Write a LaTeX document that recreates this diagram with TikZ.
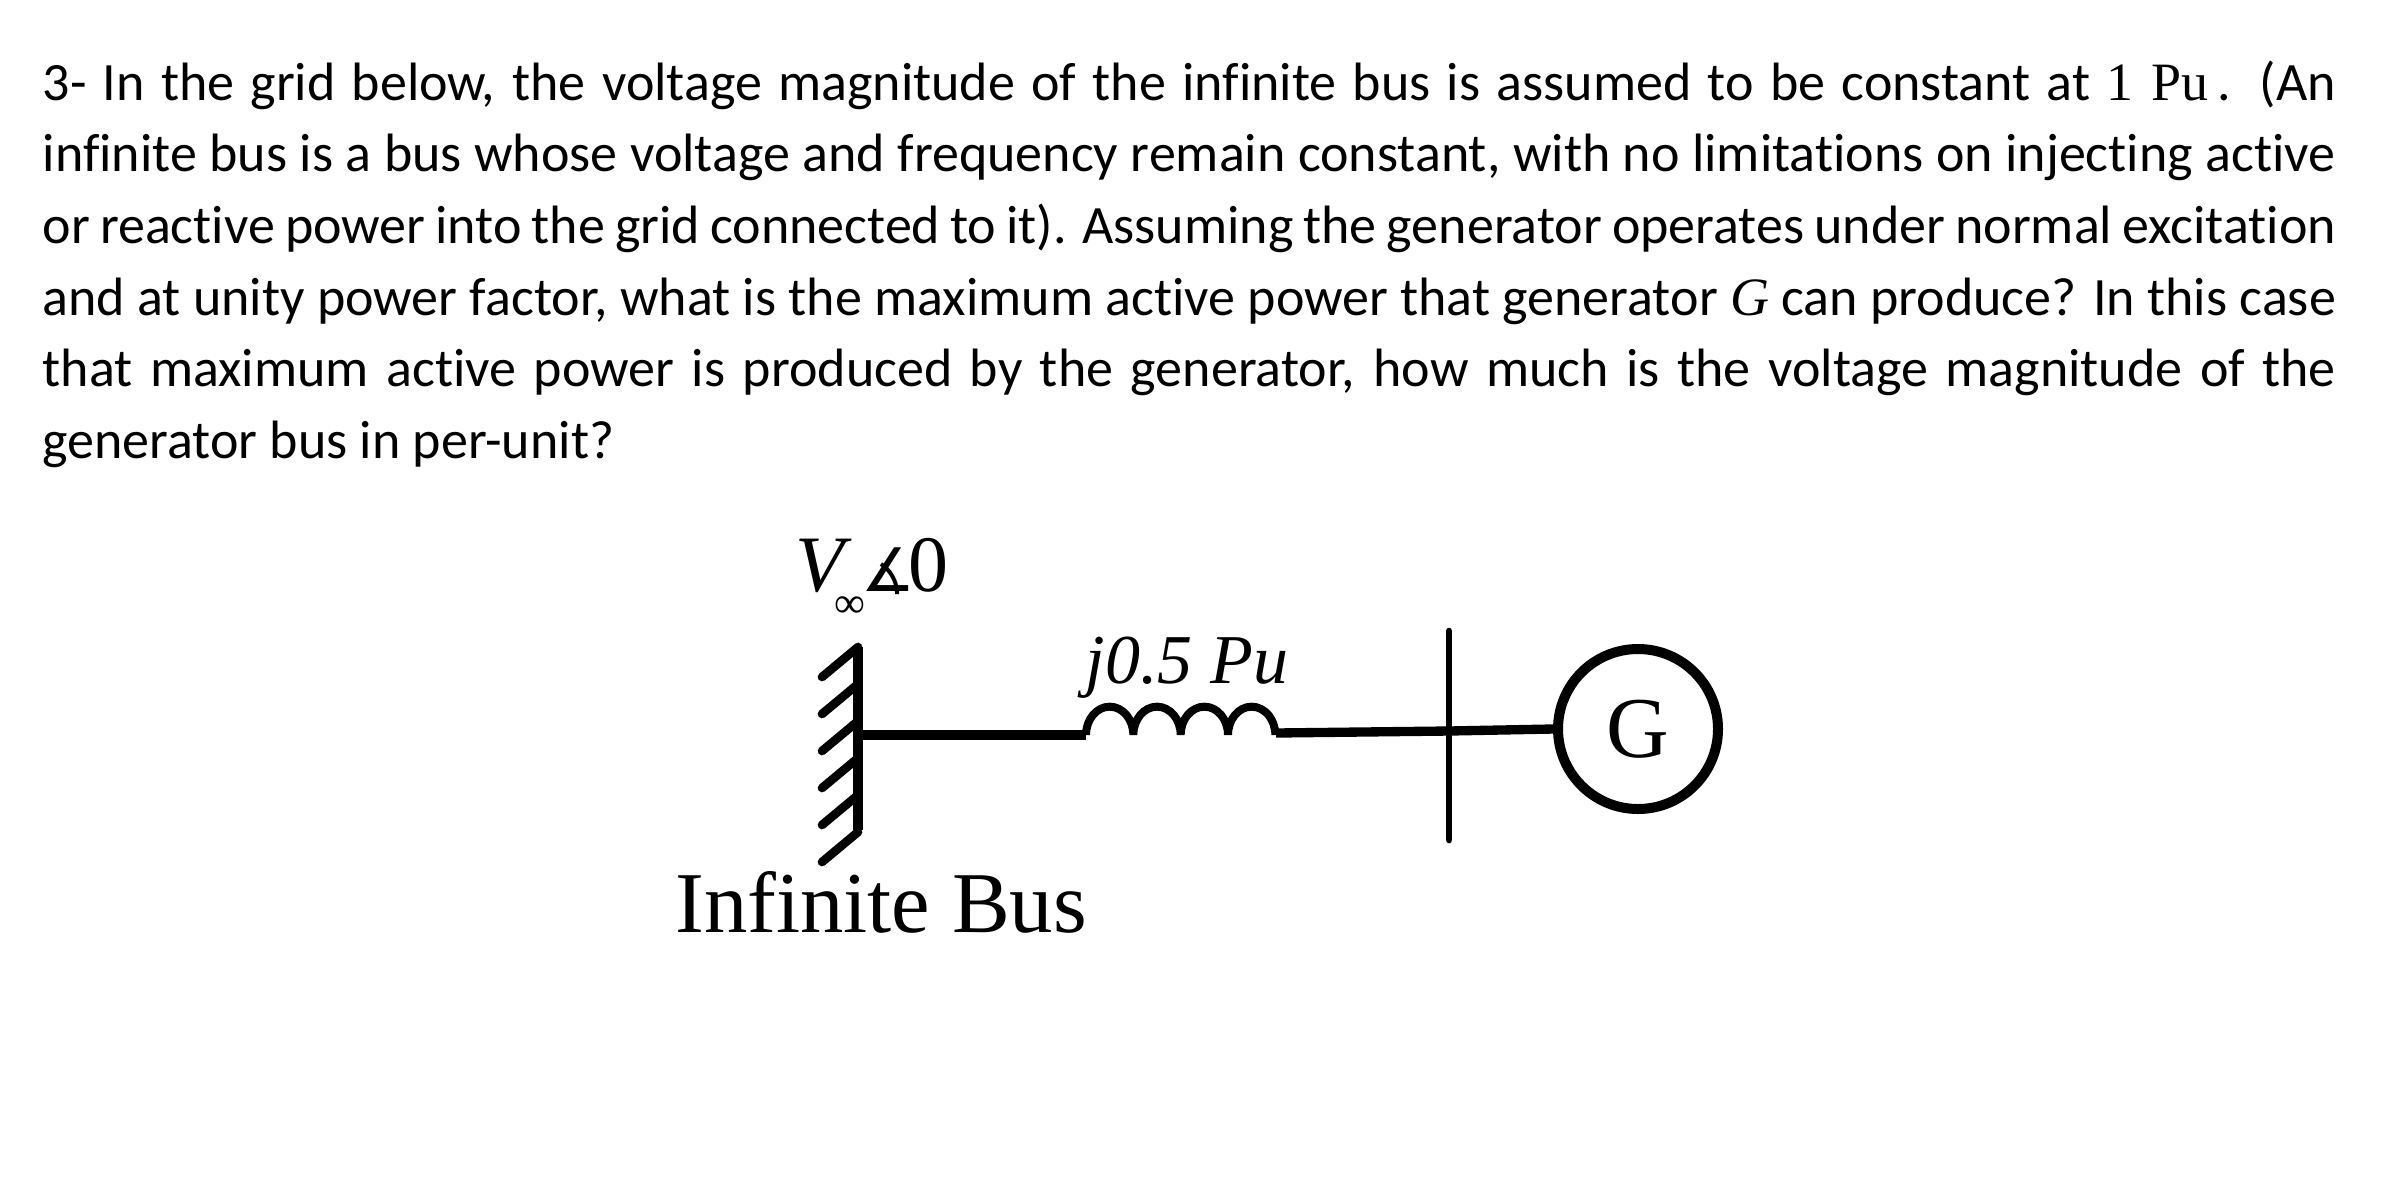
\documentclass[tikz,border=0pt]{standalone}
\usepackage{fontspec}
\setmainfont[Ligatures=NoCommon]{Carlito}
\newfontfamily\tms{Liberation Serif}
\newfontfamily\djv{DejaVu Sans}
\begin{document}
\begin{tikzpicture}[x=0.3pt,y=-0.3pt,
  wire/.style={line width=2.8pt},
  hatch/.style={line width=2.6pt,line cap=round},
  busbar/.style={line width=2pt,line cap=round}]
\useasboundingbox (0,0) rectangle (2404,1182);
\node[anchor=north west,inner sep=0pt,text width=688pt,font=\fontsize{16.2pt}{21.5pt}\selectfont,align=justify] (q) at (42,60)
{\hyphenpenalty=10000 3- In the grid below, the voltage magnitude of the infinite bus is assumed to be constant at {\tms 1 Pu}\,. (An\linebreak infinite bus is a bus whose voltage and frequency remain constant, with no limitations on injecting active\linebreak or reactive power into the grid connected to it). Assuming the generator operates under normal excitation\linebreak and at unity power factor, what is the maximum active power that generator {\tms\itshape G} can produce? In this case\linebreak that maximum active power is produced by the generator, how much is the voltage magnitude of the\linebreak generator bus in per-unit?\par};
% infinite bus
\coordinate (ibt) at (858,647);
\coordinate (ibb) at (858,830);
\coordinate (ibm) at (858,735);
\draw[wire] (ibt) -- (ibb);
\foreach \y in {647,684,721,758,795,832}
  \draw[hatch] (858,\y) -- ++(-36,30);
\node[font=\tms\fontsize{24pt}{24pt}\selectfont,inner sep=0pt] (v) at (872,578) {\itshape V\kern-3pt\raisebox{-8pt}{\fontsize{13pt}{13pt}\selectfont\upshape ∞}\kern-1pt{\upshape\djv\fontsize{18pt}{18pt}\selectfont∡}\kern-2pt{\upshape 0}};
% line and inductor
\coordinate (l1) at (1086,735);
\coordinate (l2) at (1276,733);
\draw[wire] (ibm) -- (l1);
\draw[line width=2.4pt] (l1) arc[start angle=180,end angle=0,x radius=7.1pt,y radius=8.5pt]
  arc[start angle=180,end angle=0,x radius=7.1pt,y radius=8.5pt]
  arc[start angle=180,end angle=0,x radius=7.1pt,y radius=8.5pt]
  arc[start angle=180,end angle=0,x radius=7.1pt,y radius=8.5pt];
\node[font=\tms\itshape\fontsize{21pt}{21pt}\selectfont,inner sep=0pt] (z) at (1187,668) {j0.5 Pu};
% generator bus
\coordinate (gbt) at (1449,631);
\coordinate (gbb) at (1449,840);
\coordinate (gbm) at (1449,731);
\draw[busbar] (gbt) -- (gbb);
\draw[wire] (l2) -- (gbm);
\node[draw,circle,line width=3pt,minimum size=48pt,inner sep=0pt,font=\tms\fontsize{26pt}{26pt}\selectfont] (g) at (1638,729) {G};
\draw[wire] (gbm) -- (g.west);
\node[font=\tms\fontsize{26pt}{26pt}\selectfont,inner sep=0pt] (ib) at (881,902) {Infinite Bus};
\end{tikzpicture}
\end{document}
